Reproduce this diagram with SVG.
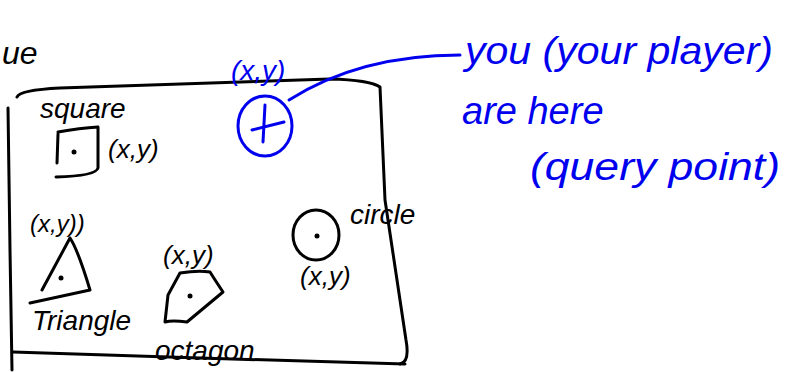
<svg xmlns="http://www.w3.org/2000/svg" width="789" height="372" viewBox="0 0 789 372">
<style>
.k{fill:none;stroke:#000;stroke-width:3;stroke-linecap:round;stroke-linejoin:round}
.b{fill:none;stroke:#0000ee;stroke-width:3;stroke-linecap:round;stroke-linejoin:round}
.tk{font-family:"Liberation Sans",sans-serif;font-style:italic;fill:#000}
.tb{font-family:"Liberation Sans",sans-serif;font-style:italic;fill:#0000ee}
</style>
<rect width="789" height="372" fill="#fff"/>
<text class="tk" x="2" y="64" font-size="32">ue</text>
<g id="frame">
<path class="k" d="M17,97 Q20,90 60,88 L330,79 Q370,80 380,87 L385,200 L406,340 Q410,362 400,364"/>
<path class="k" d="M8,108 L10,250 L12,370"/>
<path class="k" d="M13,352 L200,358 L405,364"/>
</g>
<g id="square">
<path class="k" d="M58,132 Q80,128 98,127 L98,168 Q96,176 56,177"/>
<path class="k" d="M58,134 L57,163"/>
<circle cx="74" cy="152" r="2.5" fill="#000"/>
<text class="tk" x="40" y="118" font-size="28">square</text>
<text class="tk" x="108" y="158" font-size="26">(x,y)</text>
</g>
<g id="player">
<ellipse class="b" cx="265" cy="126" rx="27" ry="30"/>
<path class="b" d="M265,105 L263,142 M252,130 L284,122"/>
<text class="tb" x="231" y="80" font-size="28">(x,y)</text>
</g>
<g id="circle">
<ellipse class="k" cx="316" cy="235" rx="23" ry="25"/>
<circle cx="317" cy="236" r="2.5" fill="#000"/>
<text class="tk" x="350" y="224" font-size="28">circle</text>
<text class="tk" x="300" y="285" font-size="26">(x,y)</text>
</g>
<g id="triangle">
<path class="k" d="M70,238 L42,290 M70,238 Q78,250 90,290 L30,303"/>
<circle cx="61" cy="278" r="2.5" fill="#000"/>
<text class="tk" x="30" y="232" font-size="24">(x,y))</text>
<text class="tk" x="32" y="330" font-size="28">Triangle</text>
</g>
<g id="octagon">
<path class="k" d="M180,273 L168,295 L165,322 Q172,320 187,322 L223,292 Q215,280 210,272 Q198,270 180,273"/>
<circle cx="190" cy="296" r="2.5" fill="#000"/>
<text class="tk" x="163" y="264" font-size="26">(x,y)</text>
<text class="tk" x="155" y="360" font-size="28">octagon</text>
</g>
<g id="connectors">
<path class="b" d="M289,100 Q360,55 460,55"/>
</g>
<g id="note">
<text class="tb" x="465" y="64" font-size="38" textLength="308" lengthAdjust="spacingAndGlyphs">you (your player)</text>
<text class="tb" x="462" y="124" font-size="38">are here</text>
<text class="tb" x="530" y="180" font-size="38" textLength="250" lengthAdjust="spacingAndGlyphs">(query point)</text>
</g>
</svg>
